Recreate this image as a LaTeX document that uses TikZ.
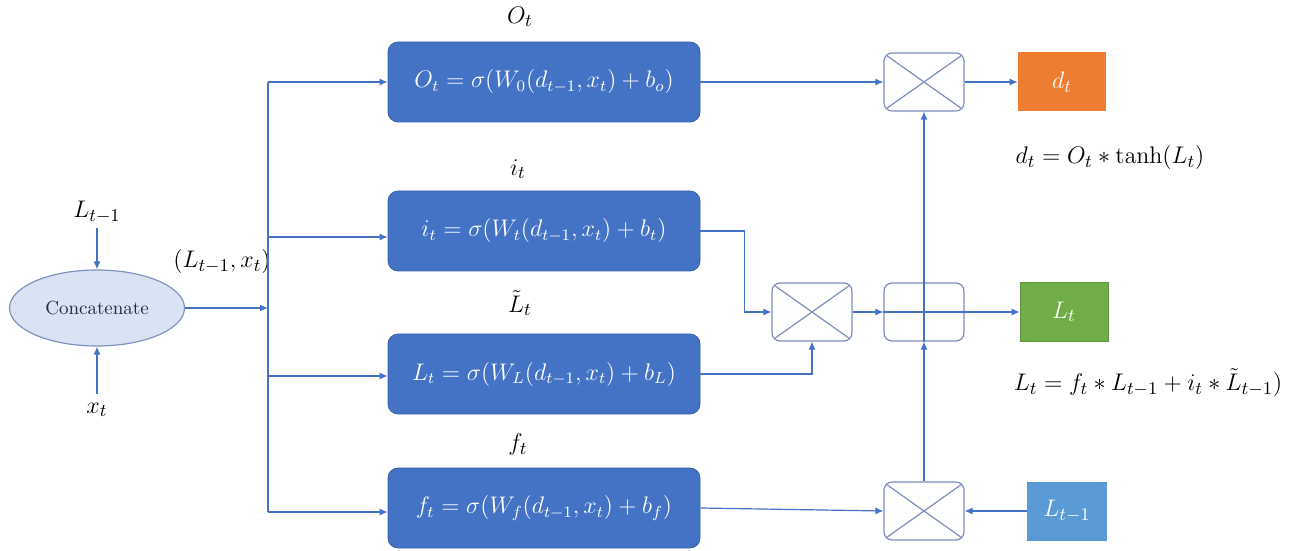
\documentclass[tikz,border=0pt]{standalone}
\usetikzlibrary{arrows.meta,shapes.geometric}
\definecolor{lnblue}{HTML}{4472C4}
\definecolor{gatefill}{HTML}{4472C4}
\definecolor{gateborder}{HTML}{3A63AE}
\definecolor{ellfill}{HTML}{DAE3F3}
\definecolor{ellborder}{HTML}{7F93BF}
\definecolor{opborder}{HTML}{7C8DBE}
\definecolor{orangebox}{HTML}{ED7D31}
\definecolor{greenbox}{HTML}{70AD47}
\definecolor{lightbluebox}{HTML}{5B9BD5}
\definecolor{navytext}{HTML}{1F2A44}
\begin{document}
\begin{tikzpicture}[x=0.5pt,y=-0.5pt,
  conn/.style={draw=lnblue, line width=0.6pt, -{Latex[length=4pt,width=3.5pt]}},
  wire/.style={draw=lnblue, line width=0.6pt},
  gatebox/.style={draw=gateborder, fill=gatefill, rounded corners=5pt, minimum width=156pt, minimum height=40pt, text=white, font=\fontsize{12}{14}\selectfont},
  opbox/.style={draw=opborder, line width=0.6pt, rounded corners=4pt, minimum width=40pt, minimum height=29pt},
  outbox/.style={minimum width=44pt, minimum height=29.5pt, text=white, font=\fontsize{13}{15}\selectfont},
  lbl/.style={font=\fontsize{12.5}{15}\selectfont, inner sep=1pt}]
\useasboundingbox (0,0) rectangle (1298,551);

% concatenate
\node[ellipse, draw=ellborder, fill=ellfill, line width=0.6pt, minimum width=87.5pt, minimum height=38pt, text=navytext, font=\fontsize{9.5}{11}\selectfont] (cat) at (97,308) {Concatenate};
\node[lbl] (lin) at (97,212) {$L_{t-1}$};
\node[lbl] (xin) at (97,410) {$x_t$};
\coordinate (linb) at (97,228);
\coordinate (xint) at (97,394);
\draw[conn] (linb) -- (cat.north);
\draw[conn] (xint) -- (cat.south);
\node[lbl] (catlbl) at (222,262) {$(L_{t-1},x_t)$};

% bus
\coordinate (bt) at (268,82);
\coordinate (b1) at (268,237);
\coordinate (bm) at (268,308);
\coordinate (b2) at (268,376);
\coordinate (bb) at (268,512);
\draw[wire] (bt) -- (bb);
\draw[conn] (cat.east) -- (bm);

% gates
\node[gatebox] (O) at (544,82) {$O_t=\sigma(W_0(d_{t-1},x_t)+b_o)$};
\node[gatebox] (I) at (544,231) {$i_t=\sigma(W_t(d_{t-1},x_t)+b_t)$};
\node[gatebox] (L) at (544,374) {$L_t=\sigma(W_L(d_{t-1},x_t)+b_L)$};
\node[gatebox] (F) at (544,508) {$f_t=\sigma(W_f(d_{t-1},x_t)+b_f)$};

\node[lbl] (Olbl) at (520,17) {$O_t$};
\node[lbl] (Ilbl) at (518,169) {$i_t$};
\node[lbl] (Llbl) at (520,303) {$\tilde{L}_t$};
\node[lbl] (Flbl) at (518,445) {$f_t$};

\draw[conn] (bt) -- (O.west);
\draw[conn] (b1) -- (I.west |- b1);
\draw[conn] (b2) -- (L.west |- b2);
\draw[conn] (bb) -- (F.west |- bb);

% operators
\node[opbox] (tm) at (924,82) {};
\node[opbox] (mm) at (812,312) {};
\node[opbox] (pl) at (924,312) {};
\node[opbox] (bmul) at (924,511) {};
\foreach \m in {tm,mm,bmul}{
  \draw[draw=opborder, line width=0.6pt] ([shift={(1.5pt,-1.5pt)}]\m.north west) -- ([shift={(-1.5pt,1.5pt)}]\m.south east);
  \draw[draw=opborder, line width=0.6pt] ([shift={(1.5pt,1.5pt)}]\m.south west) -- ([shift={(-1.5pt,-1.5pt)}]\m.north east);
}

% outputs
\node[outbox, fill=orangebox] (dt) at (1062,82) {$d_t$};
\node[outbox, fill=greenbox, draw=greenbox!85!black, line width=0.4pt] (Lt) at (1064,312) {$L_t$};
\node[outbox, fill=lightbluebox, minimum width=40pt] (Lp) at (1067,511) {$L_{t-1}$};

\node[lbl] (deq) at (1110,158) {$d_t=O_t*\tanh(L_t)$};
\node[lbl] (leq) at (1148,383) {$L_t=f_t*L_{t-1}+i_t*\tilde{L}_{t-1})$};

% connectors
\draw[conn] (O.east) -- (tm.west);
\draw[conn] (tm.east) -- (dt.west);
\draw[conn] (I.east) -- ++(44,0) |- (mm.west);
\draw[conn] (L.east) -| (mm.south);
\draw[conn] (mm.east) -- (pl.west);
\draw[conn] (pl.west) -- (Lt.west);
\draw[conn] (F.east) -- (bmul.west);
\draw[conn] (Lp.west) -- (bmul.east);
\draw[conn] (bmul.north) -- (pl.south);
\draw[conn] (pl.south) -- (tm.south);
\end{tikzpicture}
\end{document}
